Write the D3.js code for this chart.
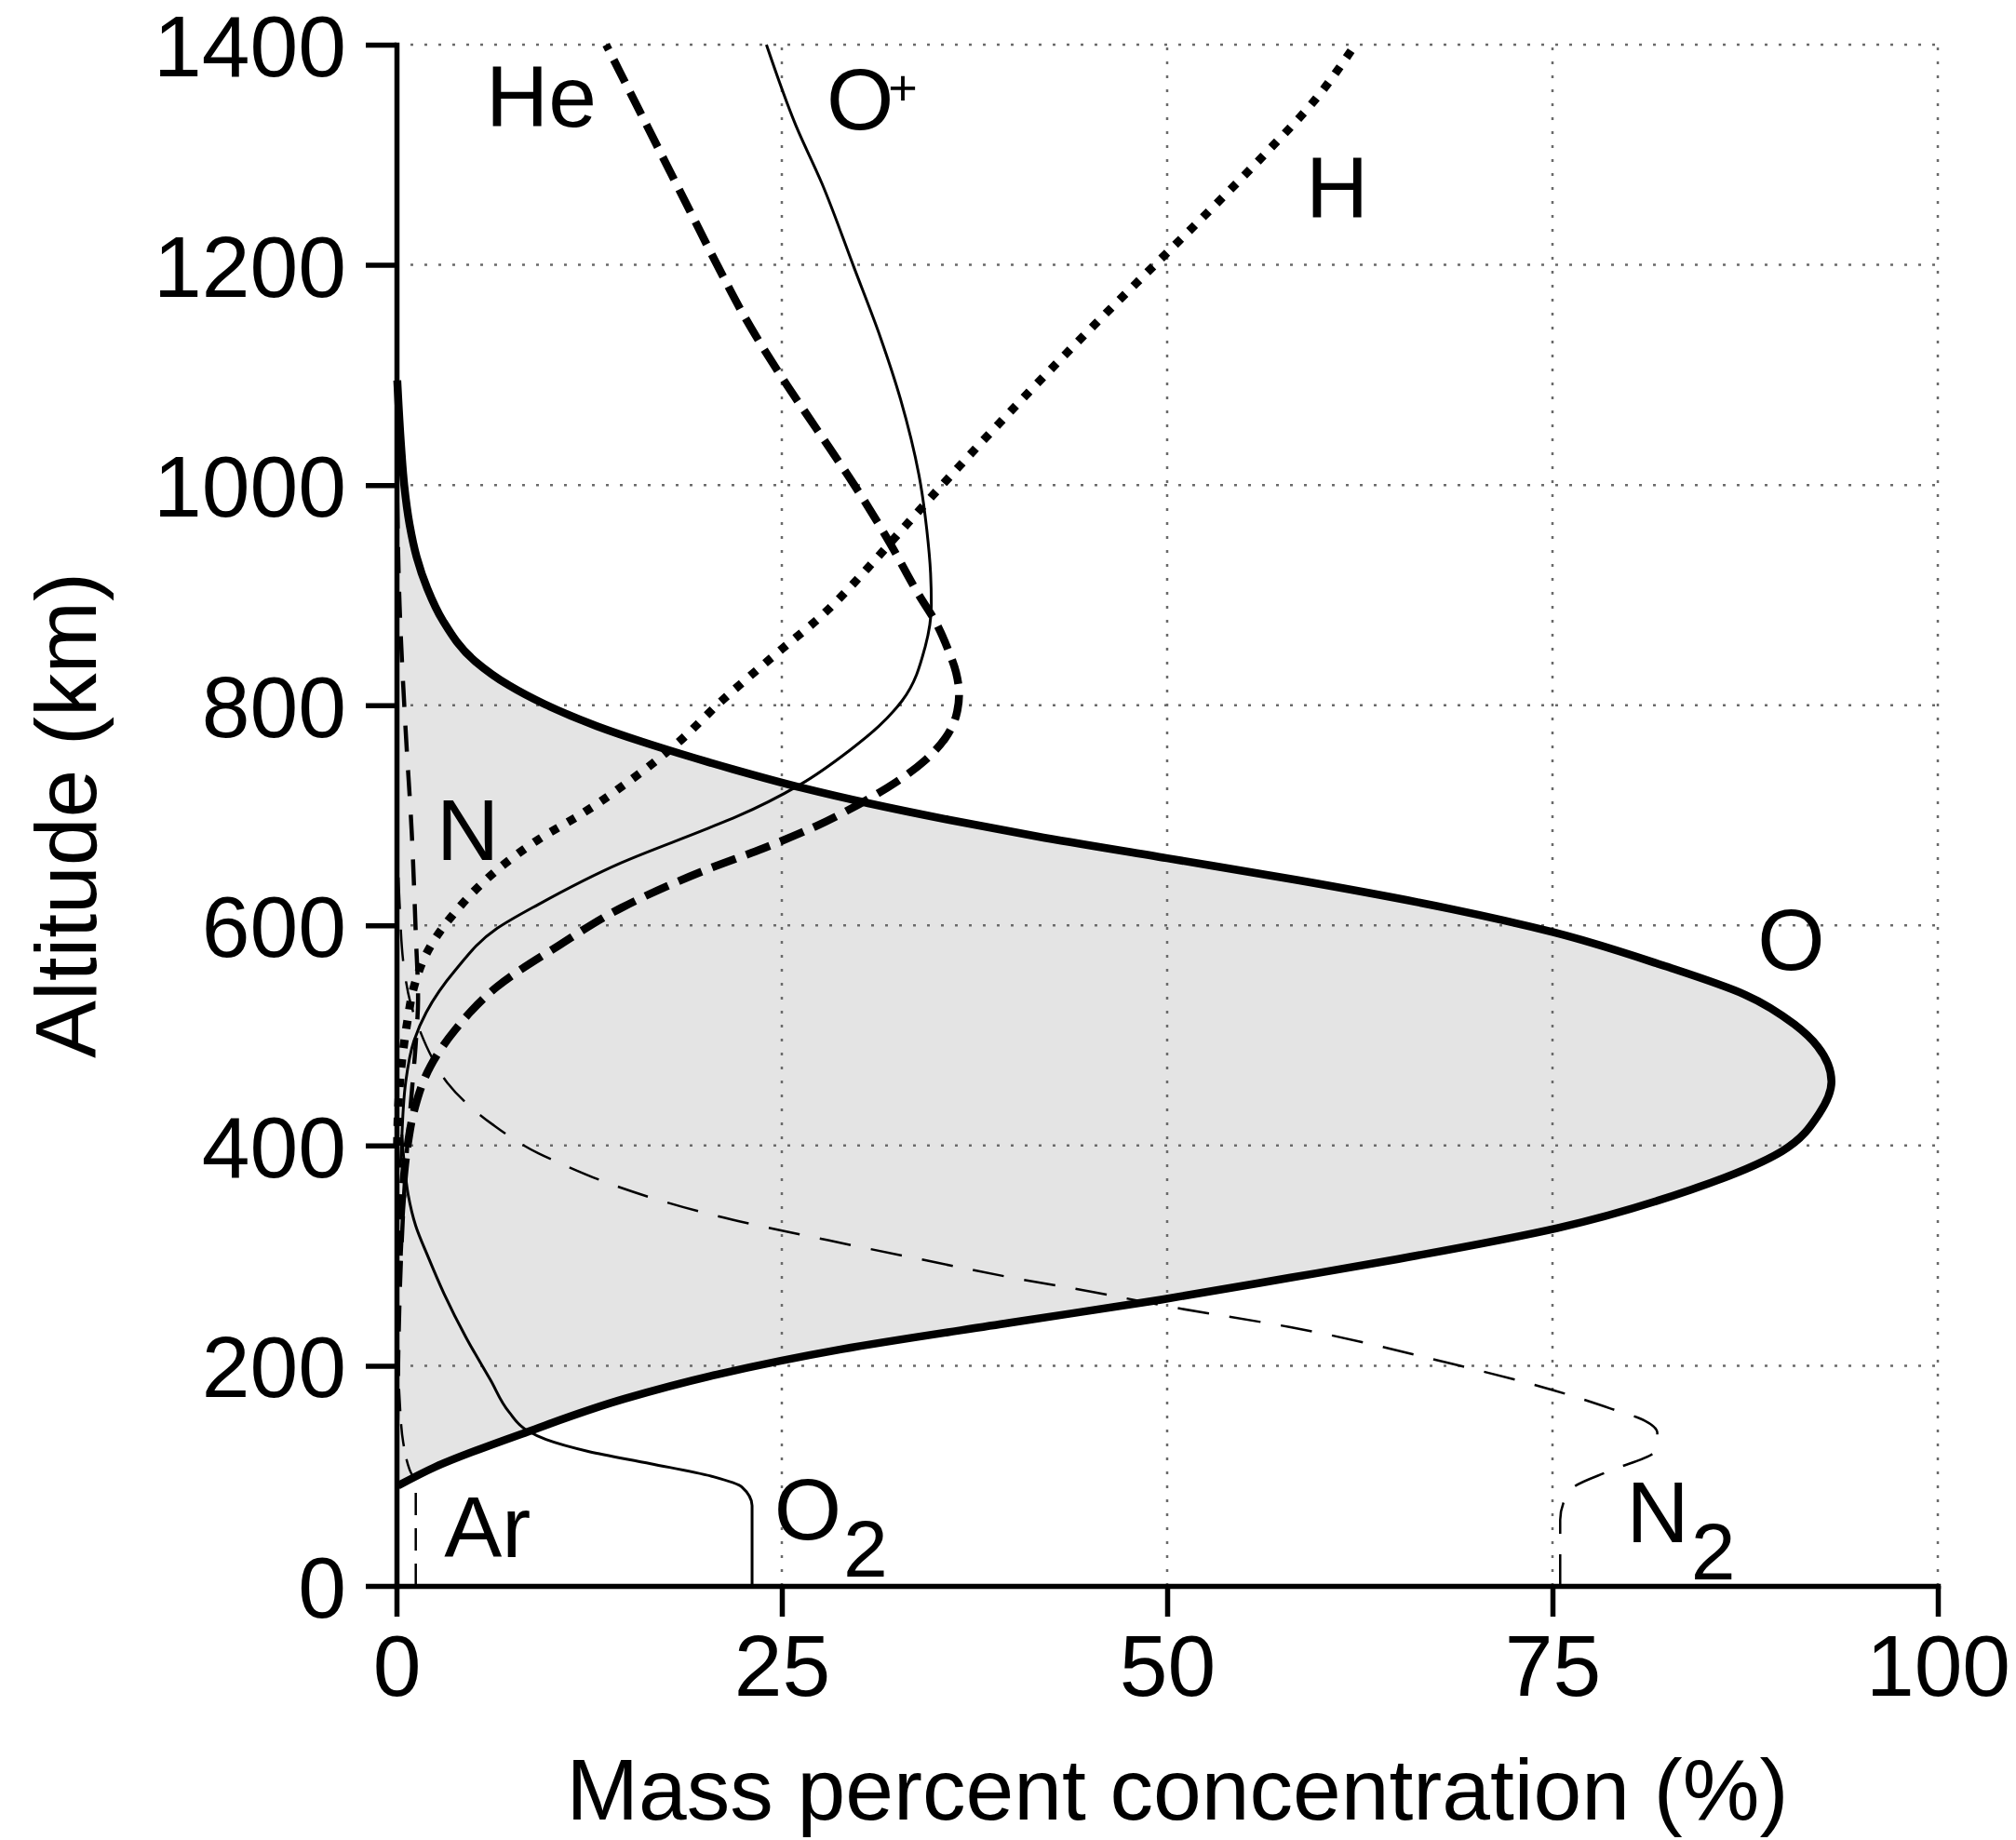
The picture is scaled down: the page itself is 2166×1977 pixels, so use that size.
<!DOCTYPE html>
<html>
<head>
<meta charset="utf-8">
<script src="https://cdn.jsdelivr.net/npm/d3@7"></script>
<style>
  body { margin: 0; background: #fff; }
  svg { display: block; font-family: 'Liberation Sans', Arial, Helvetica, sans-serif; }
  .grid line { stroke: #6a6a6a; stroke-width: 2.5; stroke-dasharray: 3 12; }
  .axis path, .axis line { stroke: #000; stroke-width: 5.5; }
  .axis text { font-size: 93px; fill: #000; }
  .curve { fill: none; stroke: #000; stroke-linejoin: round; }
  .thin { stroke-width: 3; }
  .thick { stroke-width: 8.5; }
  .dashThick { stroke-width: 8.5; stroke-dasharray: 27 12; }
  .dashMed { stroke-width: 4.5; stroke-dasharray: 28 20; }
  .dashThin { stroke-width: 2.5; stroke-dasharray: 34 22; }
  .dashAr { stroke-width: 2.5; stroke-dasharray: 24 14; }
  .dots { stroke-width: 9; stroke-dasharray: 9 12; }
  .label { font-size: 93px; fill: #000; }
  .title { font-size: 93px; fill: #000; }
</style>
</head>
<body>
<div id="chart"></div>
<script>
// axis ticks
const percentTicks = [0, 25, 50, 75, 100]
const altitudeTicks = [0, 200, 400, 600, 800, 1000, 1200, 1400]

// each species: [altitude km, mass percent]
const atomicO = [
  [91, 0.1], [108, 2.5], [140, 8.5], [170, 14.8], [192, 20.8], [215, 28.9], [239, 39.8],
  [260, 49.6], [280, 58], [297, 65], [325, 75.3], [360, 84], [395, 89.9], [429, 92.3],
  [458, 93.1], [490, 92.2], [510, 90.7], [537, 87.5], [563, 82.3], [594, 75], [615, 68.4],
  [641, 58.5], [661, 50], [681, 41.5], [696, 35.8], [711, 30.6], [725, 26.3], [742, 21.8],
  [756, 18.4], [767, 15.9], [781, 13.0], [801, 9.6], [818, 7.3], [840, 5.1], [877, 3.0],
  [906, 2.0], [935, 1.3], [964, 0.85], [1000, 0.5], [1035, 0.3], [1095, 0.05]
]
const nitrogenN2 = [
  [0, 75.5], [60, 75.5], [75, 75.7], [90, 76.4], [105, 78.8], [122, 81.6], [139, 81.8],
  [150, 81.0], [161, 78.8], [178, 75], [202, 68.4], [235, 58], [254, 50], [267, 45.2],
  [278, 40.7], [299, 33.2], [314, 28], [336, 20.8], [364, 14.1], [384, 10.6], [393, 9.2],
  [419, 6.25], [457, 3.3], [480, 2.3], [505, 1.5], [530, 0.9], [560, 0.5], [620, 0.2], [700, 0.05]
]
const oxygenO2 = [
  [0, 23.07], [73, 23.07], [90, 22.4], [99, 20.6], [111, 16.5], [122, 12.5], [133, 9.7],
  [141, 8.5], [158, 7.3], [187, 6.1], [226, 4.5], [265, 3.1], [299, 2.05], [327, 1.25],
  [356, 0.75], [384, 0.5], [410, 0.35]
]
const argon = [
  [0, 1.25], [85, 1.25], [94, 1.2], [106, 0.84], [130, 0.44], [170, 0.2], [220, 0.08], [300, 0.02]
]
const atomicN = [
  [150, 0.05], [300, 0.3], [400, 0.7], [450, 1.0], [495, 1.26], [533, 1.4], [589, 1.26],
  [684, 0.99], [778, 0.59], [891, 0.2], [1000, 0.03]
]
const oxygenIon = [
  [380, 0.25], [400, 0.32], [457, 0.59], [495, 1.13], [521, 1.93], [559, 3.8], [597, 6.5],
  [619, 9.2], [657, 14.6], [687, 20.0], [699, 22.1], [728, 26.2], [759, 29.4], [781, 31.3],
  [804, 32.8], [853, 34.3], [891, 34.7], [920, 34.65], [960, 34.4], [1001, 34.0],
  [1078, 32.7], [1134, 31.4], [1197, 29.7], [1274, 27.6], [1327, 25.9], [1400, 24.0]
]
const helium = [
  [300, 0.15], [350, 0.35], [400, 0.72], [431, 1.13], [472, 2.2], [505, 3.8], [544, 6.5],
  [582, 10.56], [616, 14.6], [650, 20.0], [670, 23.8], [690, 27.2], [710, 30.0], [730, 32.4],
  [750, 34.3], [770, 35.6], [790, 36.3], [810, 36.5], [830, 36.3], [850, 35.8], [875, 35.0],
  [900, 33.9], [950, 31.9], [1000, 29.7], [1050, 27.3], [1100, 24.9], [1150, 22.7],
  [1200, 20.8], [1250, 19.0], [1300, 17.2], [1350, 15.4], [1400, 13.6]
]
const hydrogen = [
  [400, 0.05], [430, 0.1], [470, 0.3], [514, 0.72], [544, 1.13], [574, 1.93], [612, 3.8],
  [650, 6.5], [677, 9.1], [702, 12.1], [731, 15.1], [764, 18.1], [804, 21.1], [851, 25.0],
  [879, 27.4], [925, 30.6], [950, 32.2], [1000, 35.4], [1050, 38.7], [1100, 42.1],
  [1150, 45.6], [1200, 49.2], [1250, 52.8], [1300, 56.3], [1350, 59.6], [1400, 62.2]
]

// species labels: text, subscript/superscript, anchor in data space
const labels = [
  {text: 'He', pct: 5.8, alt: 1326},
  {text: 'O', sup: '+', pct: 27.9, alt: 1323},
  {text: 'H', pct: 59.0, alt: 1243},
  {text: 'N', pct: 2.6, alt: 659},
  {text: 'O', pct: 88.3, alt: 560},
  {text: 'Ar', pct: 3.1, alt: 26},
  {text: 'O', sub: '2', pct: 24.5, alt: 42},
  {text: 'N', sub: '2', pct: 79.8, alt: 40}
]

const width = 2166
const height = 1977
const margin = {top: 48, right: 84, bottom: 273, left: 426}

const svg = d3.select('#chart').append('svg')
  .attr('width', width)
  .attr('height', height)
  .attr('viewBox', `0 0 ${width} ${height}`)

const x = d3.scaleLinear().domain([0, 100]).range([margin.left, width - margin.right])
const y = d3.scaleLinear().domain([0, 1400]).range([height - margin.bottom, margin.top])

// grey fill under the O profile
const area = d3.area()
  .y(d => y(d[0]))
  .x0(x(0))
  .x1(d => x(d[1]))
  .curve(d3.curveMonotoneY)
svg.append('path')
  .datum(atomicO)
  .attr('d', area)
  .attr('fill', '#e4e4e4')

// dotted grid
let grid = svg.append('g').attr('class', 'grid')
grid.selectAll('.gx').data(percentTicks.filter(d => d > 0)).enter().append('line')
  .attr('x1', d => x(d)).attr('x2', d => x(d))
  .attr('y1', y(0)).attr('y2', y(1400))
grid.selectAll('.gy').data(altitudeTicks.filter(d => d > 0)).enter().append('line')
  .attr('y1', d => y(d)).attr('y2', d => y(d))
  .attr('x1', x(0)).attr('x2', x(100))

const line = d3.line()
  .y(d => y(d[0]))
  .x(d => x(d[1]))
  .curve(d3.curveMonotoneY)

const series = [
  {values: argon, cls: 'dashAr'},
  {values: nitrogenN2, cls: 'dashThin'},
  {values: atomicN, cls: 'dashMed'},
  {values: oxygenO2, cls: 'thin'},
  {values: oxygenIon, cls: 'thin'},
  {values: hydrogen, cls: 'dots'},
  {values: helium, cls: 'dashThick'},
  {values: atomicO, cls: 'thick'}
]

svg.append('g').selectAll('path').data(series).enter().append('path')
  .attr('class', d => 'curve ' + d.cls)
  .attr('d', d => line(d.values))

// axes
let yAxis = svg.append('g').attr('class', 'axis')
  .attr('transform', `translate(${x(0)},0)`)
  .call(d3.axisLeft(y).tickValues(altitudeTicks).tickFormat(d3.format('d'))
    .tickSize(33).tickSizeOuter(0).tickPadding(21))
yAxis.selectAll('text').attr('dy', '0.36em')
let xAxis = svg.append('g').attr('class', 'axis')
  .attr('transform', `translate(0,${y(0)})`)
  .call(d3.axisBottom(x).tickValues(percentTicks).tickFormat(d3.format('d'))
    .tickSize(33).tickSizeOuter(0).tickPadding(19))
svg.selectAll('.axis .domain').attr('stroke-linecap', 'square')
svg.selectAll('.axis text').attr('font-family', null).attr('font-size', null)

// axis titles
svg.append('text').attr('class', 'title')
  .attr('x', 1265).attr('y', 1955)
  .attr('text-anchor', 'middle')
  .text('Mass percent concentration (%)')
svg.append('text').attr('class', 'title')
  .attr('transform', `translate(103,${(y(0) + y(1400)) / 2}) rotate(-90)`)
  .attr('text-anchor', 'middle')
  .text('Altitude (km)')

// species labels
let lab = svg.append('g').selectAll('text').data(labels).enter().append('text')
  .attr('class', 'label')
  .attr('x', d => x(d.pct))
  .attr('y', d => y(d.alt))
lab.append('tspan').text(d => d.text)
lab.filter(d => d.sup).append('tspan')
  .attr('font-size', 54).attr('dx', -6).attr('dy', -26)
  .text(d => d.sup)
lab.filter(d => d.sub).append('tspan')
  .attr('font-size', 86).attr('dx', 2).attr('dy', 40)
  .text(d => d.sub)
</script>
</body>
</html>
